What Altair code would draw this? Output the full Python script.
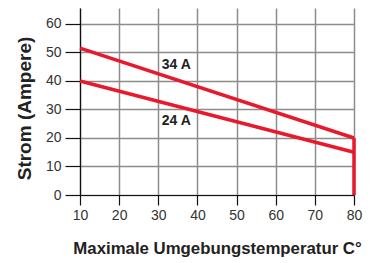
import altair as alt
import pandas as pd

# data
temps = [10, 80]
strom_34 = [51.5, 20]
strom_24 = [40, 15]
drop_x = [80, 80]
drop_y = [20, 0]
labels = ["34 A", "24 A"]
label_x = [34.6, 34.6]
label_y = [45.6, 26]
x_ticks = [10, 20, 30, 40, 50, 60, 70, 80]
y_ticks = [0, 10, 20, 30, 40, 50, 60]

rows = []
for t, v in zip(temps, strom_34):
    rows.append({"t": t, "a": v, "s": "34"})
for t, v in zip(temps, strom_24):
    rows.append({"t": t, "a": v, "s": "24"})
for t, v in zip(drop_x, drop_y):
    rows.append({"t": t, "a": v, "s": "drop"})
df = pd.DataFrame(rows)
lab = pd.DataFrame({"t": label_x, "a": label_y, "txt": labels})

RED = "#e8192c"
FONT = "Liberation Sans"

xs = alt.Scale(domain=[10, 80], nice=False, zero=False)
ys = alt.Scale(domain=[0, 65.6], nice=False)

xax = alt.Axis(values=x_ticks, tickCount=8, tickSize=10, tickColor="#111",
               domainColor="#111", gridColor="#8c8c8c", gridWidth=1.5,
               labelFontSize=14, labelColor="#333", labelPadding=3, labelFont=FONT,
               labelOverlap=False, labelFlush=False,
               title="Maximale Umgebungstemperatur C°", titleFont=FONT, titleFontSize=16.8,
               titleFontWeight="bold", titleColor="#222", titlePadding=18)
yax = alt.Axis(values=y_ticks, tickCount=7, tickSize=15, tickColor="#111",
               domainColor="#111", gridColor="#8c8c8c", gridWidth=1.5,
               labelFontSize=14, labelColor="#333", labelPadding=4, labelFont=FONT,
               labelOverlap=False, labelFlush=False,
               title="Strom (Ampere)", titleFont=FONT, titleFontSize=19,
               titleFontWeight="bold", titleColor="#222", titlePadding=11, titleY=100)

lines = alt.Chart(df).mark_line(color=RED, strokeWidth=3.5, clip=False).encode(
    x=alt.X("t:Q", scale=xs, axis=xax),
    y=alt.Y("a:Q", scale=ys, axis=yax),
    detail="s:N",
)

texts = alt.Chart(lab).mark_text(fontWeight="bold", fontSize=14, font=FONT, color="#222").encode(
    x=alt.X("t:Q", scale=xs, axis=xax),
    y=alt.Y("a:Q", scale=ys, axis=yax),
    text="txt:N",
)

chart = (lines + texts).properties(
    width=274, height=187,
    autosize=alt.AutoSizeParams(type="none"),
    padding={"left": 72, "top": 0, "right": 9, "bottom": 66},
).configure_view(stroke=None).configure_axis(domainWidth=1.2, tickWidth=1.2)

chart.save("out.html", embed_options={"renderer": "svg", "actions": False})
